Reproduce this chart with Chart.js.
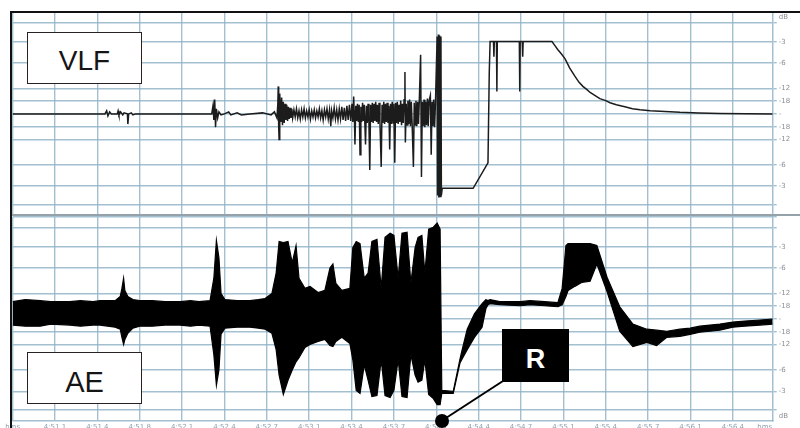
<!DOCTYPE html>
<html><head><meta charset="utf-8">
<script src="https://cdn.jsdelivr.net/npm/chart.js@4.4.1/dist/chart.umd.min.js"></script>
<style>
html,body{margin:0;padding:0;background:#fff;}
#wrap{position:relative;width:800px;height:428px;overflow:hidden;background:#fff;}
canvas{position:absolute;left:0;top:0;}
.box{position:absolute;box-sizing:border-box;border:1.5px solid #2a2222;background:#fff;font-family:"Liberation Sans",Arial,sans-serif;color:#151515;text-align:center;}
.ln{position:absolute;}
</style></head><body>
<div id="wrap">
<canvas id="c1" width="800" height="222"></canvas>
<canvas id="c2" width="800" height="428"></canvas>
<div class="ln" style="left:10px;top:11px;width:790px;height:2px;background:#111;"></div>
<div class="ln" style="left:9.5px;top:11px;width:2px;height:417px;background:#111;"></div>
<div class="ln" style="left:12px;top:213.5px;width:788px;height:2px;background:#95a2aa;"></div>
<div class="box" style="left:27px;top:32px;width:115px;height:52px;line-height:56px;font-size:28px;">VLF</div>
<div class="box" style="left:27px;top:352px;width:115px;height:52px;line-height:58px;font-size:29px;">AE</div>
<div class="box" style="left:502px;top:329px;width:67px;height:53px;line-height:58px;font-size:27px;font-weight:bold;background:#000;color:#fff;border-color:#000;">R</div>
<svg class="ln" style="left:0;top:0" width="800" height="428">
<line x1="446" y1="418" x2="503" y2="381" stroke="#000" stroke-width="2"/>
<circle cx="442" cy="421" r="7" fill="#000"/>
</svg>
</div>
<script>
// VLF trace: time in grid divisions, amplitude in % of full scale
const vlfT = [0,2.18,2.22,2.25,2.29,2.33,2.47,2.49,2.51,2.55,2.60,2.63,2.71,2.72,2.74,2.80,2.84,2.90,
4.70,4.73,4.75,4.77,4.79,4.81,4.84,4.87,4.92,5.00,5.10,5.15,5.30,5.40,5.60,5.90,6.10,6.18,
6.24,6.26,6.27,6.28,6.29,6.30,6.31,6.33,6.35,6.37,6.39,6.41,6.43,6.45,6.47,6.49,6.51,6.53,6.55,6.57,6.59,6.61,
6.64,6.67,6.70,6.73,6.76,6.79,6.82,6.85,6.88,6.91,
6.94,6.97,7.00,7.03,7.06,7.09,7.12,7.15,7.18,7.21,
7.24,7.27,7.30,7.33,7.36,7.39,7.42,7.45,7.48,7.51,
7.53,7.56,7.59,7.62,7.65,7.68,7.71,7.74,7.77,7.80,
7.83,7.86,7.89,
7.92,7.95,7.98,8.01,8.03,8.05,8.07,8.08,8.10,8.12,
8.14,8.16,8.18,8.20,8.22,8.24,8.26,8.28,8.30,8.33,
8.35,8.37,8.39,8.41,8.43,8.45,8.47,8.49,8.51,8.53,
8.55,8.57,8.59,8.61,8.63,8.65,8.67,8.70,8.72,8.74,
8.76,8.78,8.80,8.82,8.84,8.86,8.88,8.90,8.92,8.94,
8.96,8.98,9.00,9.02,9.04,9.06,9.08,9.10,9.12,9.14,
9.16,9.18,9.20,9.22,9.24,9.26,9.27,9.29,9.31,9.33,
9.35,9.37,9.39,9.41,9.43,9.46,9.48,9.50,9.52,9.54,
9.56,9.58,9.60,9.63,9.65,9.67,9.69,9.71,9.73,9.75,
9.77,9.79,9.81,9.83,9.86,9.88,9.90,9.92,9.94,9.96,9.98,
10.02,10.03,10.05,10.06,10.08,10.09,10.11,10.12,10.14,
10.87,11.22,11.25,11.27,11.35,11.36,11.37,11.42,11.43,11.44,11.96,11.97,11.98,12.03,12.04,12.05,
12.73,12.80,12.87,12.95,13.04,13.15,13.27,13.37,13.46,13.55,13.63,13.75,13.86,14.00,14.10,14.25,
14.45,14.63,14.81,15.05,15.28,15.75,16.20,16.69,17.94];
const vlfV = [0,0,3,-2,2,0,0,3,-1,2,-1,1,0,-10,0,1,-1,0,
0,8,-6,14,-13,5,-4,2,-1,0,2,-1,1,-1,0,1,-1,2,
-4,10,27,-12,-25,8,20,-8,16,-11,12,-9,10,-6,9,-7,7,-5,6,-4,5,-4,
4,-3,5,-4,3,-5,4,-3,5,-4,
3,-3,4,-5,3,-3,4,-4,3,-3,
5,-4,3,-6,4,-3,5,-5,4,-12,
3,-4,6,-5,4,-6,5,-5,7,-6,
6,-7,8,
-6,9,-7,10,-8,17,-9,-30,8,-7,
10,-8,9,-40,7,-8,11,-7,9,-30,
8,-9,10,-8,-55,9,-8,11,-9,10,
-7,12,-8,9,-10,11,-8,-52,9,-9,
12,-10,10,-8,11,-9,8,-35,10,-10,
12,-9,10,-48,11,-9,12,-10,9,-8,
13,-11,10,-9,14,41,-28,10,-11,13,
-10,14,-12,12,-10,-52,11,-11,13,-12,
12,-10,14,58,-62,12,-12,14,-13,12,
-11,15,-12,13,18,-40,12,-12,14,-13,10,
76,-80,78,-82,77,-81,76,-80,-73,
-73,-48,40,71,71,56,71,71,22,71,71,22,71,71,56,71,
71,67,63,59,54,45,37,31,27,24,21,18,15,13,11,9,
7,5,4,3,2.5,1.5,1,0.5,0];

// AE trace envelope: time in divisions, upper / lower edge in % of full scale
const aeT  = [0,0.30,0.65,0.90,1.35,1.60,1.90,2.06,2.42,2.54,2.58,2.62,2.65,2.72,2.84,3.00,3.30,3.60,3.95,4.20,
4.40,4.66,4.75,4.81,4.87,4.92,5.01,5.30,5.60,5.80,
5.96,6.12,6.22,6.29,6.39,6.50,6.60,6.69,6.76,6.90,7.02,7.21,7.37,7.49,7.56,7.63,7.77,7.96,8.03,8.11,
8.20,8.30,8.39,8.48,8.60,8.70,8.79,8.91,9.00,9.10,9.19,9.31,9.40,9.50,9.57,9.66,9.73,9.82,9.93,10.02,
10.09,10.13,10.40,10.56,10.60,10.73,10.90,11.08,11.17,11.22,11.27,11.50,11.98,12.21,12.56,12.87,12.97,13.06,13.11,13.27,
13.44,13.63,13.79,14.03,14.33,14.64,14.97,15.20,15.44,15.75,15.99,16.22,16.46,16.69,17.00,17.28,17.64,17.94];
const aeHi = [17,19,18,17,17,18,17,18,18,22,30,40,28,22,19,18,18,17,17,18,
17,18,40,77,60,25,19,18,18,19,
20,25,45,76,75,76,55,72,40,30,32,26,28,50,54,35,28,30,70,76,
74,40,45,76,78,30,80,84,82,40,84,85,35,70,80,82,45,88,90,94,
88,-70,-71,-39,-32,-10,5,15,19,18,19,17,17,18,17,16,30,72,74,74,
74,74,72,41,12,-5,-10,-11,-12,-10,-9,-7,-6,-5,-3,-2,-1,0];
const aeLo = [-6,-7,-7,-5,-6,-7,-6,-6,-8,-10,-18,-25,-20,-14,-9,-7,-7,-6,-6,-7,
-6,-7,-35,-65,-50,-15,-9,-8,-8,-9,
-10,-14,-30,-55,-74,-60,-50,-42,-38,-28,-25,-22,-20,-26,-27,-22,-18,-24,-40,-70,
-73,-45,-60,-76,-75,-40,-75,-77,-70,-40,-76,-77,-35,-55,-62,-60,-40,-74,-78,-84,
-84,-73,-73,-43,-40,-30,-18,-8,10,14,15,14,13,14,13,12,14,22,28,32,
36,37,54,27,-12,-27,-23,-26,-18,-17,-15,-13,-12,-11,-8,-7,-6,-5];

// axis ticks
const xTickVals = [0,1,2,3,4,5,6,7,8,9,10,11,12,13,14,15,16,17,17.75];
const xTickLabels = ['hms','4:51.1','4:51.4','4:51.8','4:52.1','4:52.4','4:52.7','4:53.1','4:53.4','4:53.7',
'4:54.1','4:54.4','4:54.7','4:55.1','4:55.4','4:55.7','4:56.1','4:56.4','hms'];
const yTickValsTop = [100,95,89.1,70.8,50.1,25.1,12.6,0,-12.6,-25.1,-50.1,-70.8,-89.1,-100];
const yTickLabsTop = ['','dB','','-3','-6','-12','-18','-','-18','-12','-6','-3','',''];
const yTickValsBot = [100,89.1,70.8,50.1,25.1,12.6,0,-12.6,-25.1,-50.1,-70.8,-89.1,-95,-100];
const yTickLabsBot = ['','','-3','-6','-12','-18','-','-18','-12','-6','-3','','dB',''];

const GRID = 'rgba(140,176,198,0.8)';
const hiddenX = [17.75];
function xScale(showLabels){
  return {
    type:'linear', min:0, max:17.94,
    afterBuildTicks:s=>{s.ticks = xTickVals.map(v=>({value:v}));},
    afterFit:s=>{s.height = showLabels?7:0;},
    grid:{color:c=>(c.tick && hiddenX.includes(c.tick.value))?'rgba(0,0,0,0)':GRID, lineWidth:1.4, drawTicks:false},
    border:{display:showLabels, color:GRID, width:1.5},
    ticks:{display:showLabels, autoSkip:false, maxRotation:0, padding:2, color:'#8da2b0',
      font:{family:'DejaVu Sans', size:7},
      callback:(v,i)=>xTickLabels[i]}
  };
}
function yScale(vals, labs, hideVals){
  return {
    position:'right', min:-100, max:100,
    afterBuildTicks:s=>{s.ticks = vals.map(v=>({value:v}));},
    afterFit:s=>{s.width = 27.3;},
    grid:{color:c=>(c.tick && hideVals.includes(c.tick.value))?'rgba(0,0,0,0)':GRID, lineWidth:1.4, drawTicks:true, tickLength:4},
    border:{display:true, color:GRID, width:1.5},
    ticks:{autoSkip:false, padding:2, color:'#8a8f96', font:{family:'DejaVu Sans', size:7},
      callback:(v,i)=>labs[i]}
  };
}
const common = {responsive:false, animation:false, devicePixelRatio:1,
  plugins:{legend:{display:false}, tooltip:{enabled:false}}, elements:{point:{radius:0}, line:{tension:0}}};

new Chart(document.getElementById('c1'), {
  type:'line',
  data:{datasets:[{data:vlfT.map((t,i)=>({x:t,y:vlfV[i]})), borderColor:'#1c1c1c', borderWidth:1.5, fill:false}]},
  options:Object.assign({}, common, {
    layout:{padding:{left:12.6, top:12, right:0, bottom:0}},
    scales:{x:xScale(false), y:yScale(yTickValsTop, yTickLabsTop, [100,95,-100])}
  })
});
new Chart(document.getElementById('c2'), {
  type:'line',
  data:{datasets:[
    {data:aeT.map((t,i)=>({x:t,y:aeHi[i]})), borderColor:'#000', borderWidth:1.2, fill:'+1', backgroundColor:'#000'},
    {data:aeT.map((t,i)=>({x:t,y:aeLo[i]})), borderColor:'#000', borderWidth:1.2, fill:false}
  ]},
  options:Object.assign({}, common, {
    layout:{padding:{left:12.6, top:217, right:0, bottom:0}},
    scales:{x:xScale(true), y:yScale(yTickValsBot, yTickLabsBot, [-95,-100])}
  })
});
</script>
</body></html>
